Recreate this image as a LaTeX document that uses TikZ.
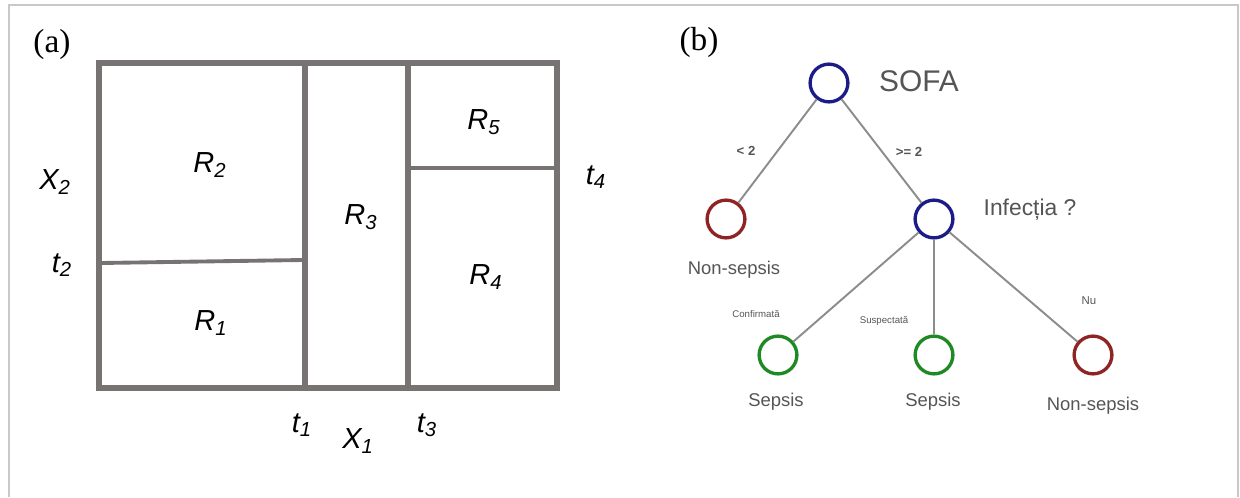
\documentclass[tikz,border=0pt]{standalone}
\usepackage{fontspec}
\setmainfont{Liberation Serif}
\setsansfont{Liberation Sans}
\usetikzlibrary{positioning}
\definecolor{dtframe}{HTML}{C8C8C8}
\definecolor{dtwall}{HTML}{777373}
\definecolor{dtedge}{HTML}{8C8C8C}
\definecolor{dttext}{HTML}{555555}
\definecolor{dtblue}{HTML}{1C1C86}
\definecolor{dtred}{HTML}{8E2424}
\definecolor{dtgreen}{HTML}{1F8A24}
\newcommand{\regname}[2]{\textit{#1\textsubscript{#2}}}
\tikzset{
  dtwallline/.style={draw=dtwall, line width=2.9pt},
  dtsplit/.style={draw=dtwall, line width=2.2pt},
  dtregion/.style={font=\sffamily\fontsize{16.5}{16.5}\selectfont, text=black},
  dtaxis/.style={font=\sffamily\fontsize{16.5}{16.5}\selectfont, text=black},
  dtpanel/.style={font=\fontsize{19}{19}\selectfont, text=black},
  dtnode/.style={circle, draw, line width=1.9pt, minimum size=21.5pt,
    inner sep=0pt},
  dtedgeline/.style={draw=dtedge, line width=1.1pt},
  dtleaf/.style={font=\sffamily\fontsize{10.5}{10.5}\selectfont, text=dttext},
  dtcond/.style={font=\sffamily\bfseries\fontsize{7.5}{7.5}\selectfont, text=dttext},
  dtbranch/.style={font=\sffamily\fontsize{5.5}{5.5}\selectfont, text=dttext},
  every picture/.style={line cap=butt},
}
\begin{document}
\begin{tikzpicture}[x=0.02cm, y=-0.02cm]
\useasboundingbox (0,0) rectangle (1240,497);

% Outer frame, open at the bottom.
\draw[draw=dtframe, line width=0.9pt] (9,497) -- (9,5) -- (1238,5) -- (1238,497);

% Panel (a): partition of the feature space.
\node[dtpanel] (panela) at (52,44) {(a)};
\draw[dtsplit] (101,263) -- (303,260);
\draw[dtsplit] (408,168) -- (557,168);
\draw[dtwallline] (305,63) -- (305,388);
\draw[dtwallline] (408,63) -- (408,388);
\draw[dtwallline] (99,63) rectangle (557,388);

\node[dtregion] (r2) at (210,165) {\regname{R}{2}};
\node[dtregion] (r1) at (211,323) {\regname{R}{1}};
\node[dtregion] (r3) at (361,217) {\regname{R}{3}};
\node[dtregion] (r5) at (484,122) {\regname{R}{5}};
\node[dtregion] (r4) at (486,277) {\regname{R}{4}};

\node[dtaxis] (x2) at (55,182) {\regname{X}{2}};
\node[dtaxis] (t2) at (62,265) {\regname{t}{2}};
\node[dtaxis] (t4) at (596,177) {\regname{t}{4}};
\node[dtaxis] (t1) at (302,425) {\regname{t}{1}};
\node[dtaxis] (x1) at (358,441) {\regname{X}{1}};
\node[dtaxis] (t3) at (427,425) {\regname{t}{3}};

% Panel (b): decision tree.
\node[dtpanel] (panelb) at (699,42) {(b)};
\node[dtnode, draw=dtblue] (sofa) at (829,83) {};
\node[dtnode, draw=dtred] (nonsepl) at (726,219) {};
\node[dtnode, draw=dtblue] (infect) at (934,219) {};
\node[dtnode, draw=dtgreen] (sepa) at (778,355) {};
\node[dtnode, draw=dtgreen] (sepb) at (934,355) {};
\node[dtnode, draw=dtred] (nonsepr) at (1093,355) {};

\draw[dtedgeline] (sofa) -- (nonsepl);
\draw[dtedgeline] (sofa) -- (infect);
\draw[dtedgeline] (infect) -- (sepa);
\draw[dtedgeline] (infect) -- (sepb);
\draw[dtedgeline] (infect) -- (nonsepr);

\node[font=\sffamily\fontsize{17}{17}\selectfont, text=dttext]
  (sofalabel) at (919,81) {SOFA};
\node[font=\sffamily\fontsize{13}{13}\selectfont, text=dttext]
  (infectlabel) at (1030,210) {Infecția ?};
\node[dtleaf] (nonseplabel) at (734,270) {Non-sepsis};
\node[dtleaf] (sepalabel) at (776,402) {Sepsis};
\node[dtleaf] (sepblabel) at (933,402) {Sepsis};
\node[dtleaf] (nonseprlabel) at (1093,406) {Non-sepsis};

\node[dtcond] (lt) at (746,151) {< 2};
\node[dtcond] (ge) at (909,152) {>= 2};
\node[dtbranch] (conf) at (756,314) {Confirmată};
\node[dtbranch] (susp) at (884,321) {Suspectată};
\node[dtbranch, font=\sffamily\fontsize{6.5}{6.5}\selectfont] (nu) at (1089,301) {Nu};

\end{tikzpicture}
\end{document}
